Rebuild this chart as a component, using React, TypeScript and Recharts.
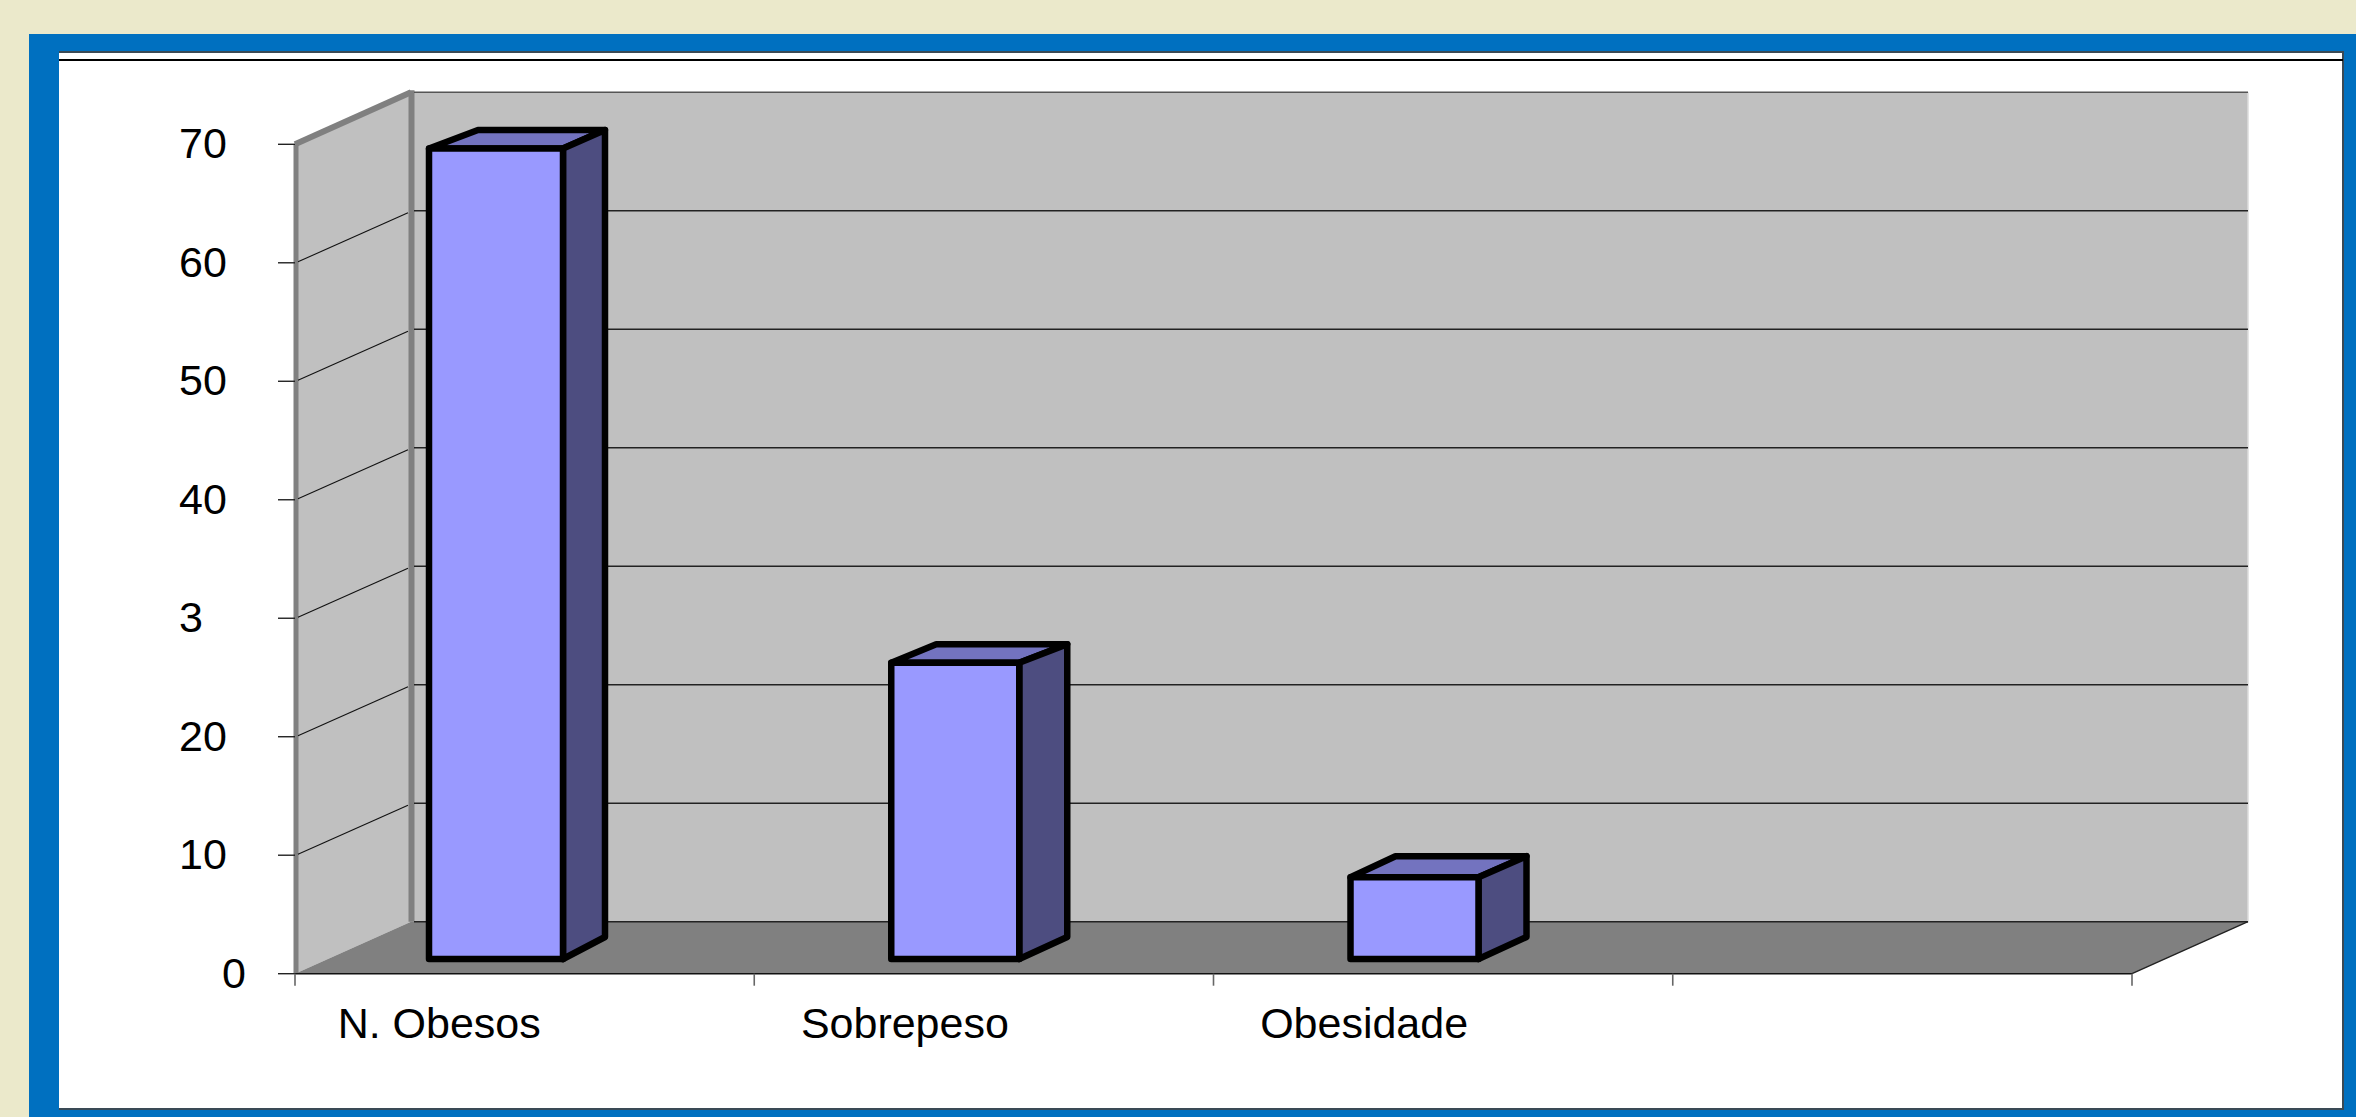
import React from "react";
import { BarChart, Bar, XAxis, YAxis, CartesianGrid } from "recharts";

const categories = ["N. Obesos", "Sobrepeso", "Obesidade", ""];
const seriesValues = [68.4, 25, 6.9, null];
const yTicks = [0, 10, 20, 30, 40, 50, 60, 70];
const yTickLabels = ["0", "10", "20", "3", "40", "50", "60", "70"];

const chartData = categories.map((name, i) => ({ name, value: seriesValues[i] }));

const W = 2356;
const H = 1117;
const PLOT = { left: 295, right: 2132, top: 144.3, bottom: 973.7 };
const DEPTH_X = 116;
const DEPTH_Y = 52;
const FONT = '"Liberation Sans", Arial, sans-serif';
const FONT_SIZE = 43;

function gridLine(props: any) {
  const { x1, x2, y1, index, x, y, width, height } = props;
  const isBase = Math.abs(y1 - (y + height)) < 0.5;
  const isTop = Math.abs(y1 - y) < 0.5;
  const bx = x + DEPTH_X;
  const right = x + width;
  return (
    <g key={`wall-${index}`}>
      {index === 0 && (
        <g>
          <polygon
            points={`${bx},${y - DEPTH_Y} ${right + DEPTH_X},${y - DEPTH_Y} ${right + DEPTH_X},${y + height - DEPTH_Y} ${bx},${y + height - DEPTH_Y}`}
            fill="#C0C0C0"
          />
          <polygon
            points={`${x},${y} ${bx},${y - DEPTH_Y} ${bx},${y + height - DEPTH_Y} ${x},${y + height}`}
            fill="#C0C0C0"
          />
          <polygon
            points={`${x},${y + height} ${bx},${y + height - DEPTH_Y} ${right + DEPTH_X},${y + height - DEPTH_Y} ${right},${y + height}`}
            fill="#808080"
          />
          <line x1={x + 1} y1={y} x2={x + 1} y2={y + height} stroke="#808080" strokeWidth={5} />
          <line x1={bx + 0.5} y1={y - DEPTH_Y - 2} x2={bx + 0.5} y2={y + height - DEPTH_Y} stroke="#808080" strokeWidth={6} />
          <line x1={x} y1={y} x2={bx} y2={y - DEPTH_Y} stroke="#808080" strokeWidth={6} />
          <line x1={right + DEPTH_X} y1={y - DEPTH_Y} x2={right + DEPTH_X} y2={y + height - DEPTH_Y} stroke="#DDDDDD" strokeWidth={1.5} />
        </g>
      )}
      {!isBase && !isTop && (
        <line x1={x1 + 3} y1={y1 - 1} x2={bx - 3} y2={y1 - DEPTH_Y + 2} stroke="#111" strokeWidth={1.1} />
      )}
      <line x1={bx + 3} y1={y1 - DEPTH_Y} x2={x2 + DEPTH_X} y2={y1 - DEPTH_Y} stroke={isTop ? "#555" : "#222"} strokeWidth={1.4} />
      {isBase && (
        <g>
          <line x1={x1} y1={y1} x2={x2} y2={y1} stroke="#111" strokeWidth={1.6} />
          <line x1={x2} y1={y1} x2={x2 + DEPTH_X} y2={y1 - DEPTH_Y} stroke="#222" strokeWidth={1.4} />
        </g>
      )}
    </g>
  );
}

function YTick(props: any) {
  const { y, index } = props;
  const label = yTickLabels[index];
  const isZero = label === "0";
  return (
    <text
      x={PLOT.left - (isZero ? 73 : 116)}
      y={y + 14}
      textAnchor="start"
      fontFamily={FONT}
      fontSize={FONT_SIZE}
      fill="#000"
    >
      {label}
    </text>
  );
}

function XTick(props: any) {
  const { x, index, payload } = props;
  const half = (PLOT.right - PLOT.left) / categories.length / 2;
  const isLast = index === categories.length - 1;
  const labelX = x - 187 + (index > 0 ? 4 : 0);
  const y = PLOT.bottom;
  return (
    <g>
      <line x1={x - half} y1={y} x2={x - half} y2={y + 12} stroke="#666" strokeWidth={1.6} />
      {isLast && <line x1={x + half} y1={y} x2={x + half} y2={y + 12} stroke="#666" strokeWidth={1.6} />}
      <text x={labelX} y={y + 64} textAnchor="start" fontFamily={FONT} fontSize={FONT_SIZE} fill="#000">
        {payload.value}
      </text>
    </g>
  );
}

const topDepths = [18.5, 18.5, 21];
const backLeftDepths = [49, 45, 45];
const backRightDepths = [42, 48, 48];

function Box3D(props: any) {
  const { x, y, width, height, index } = props;
  const first = index === 0;
  const w = first ? width + 6 : width;
  const dxL = backLeftDepths[index];
  const dxR = backRightDepths[index];
  const dyTop = topDepths[index];
  const dyBottom = 22;
  const left = x + width / 2 - w / 2 - 29;
  const right = left + w;
  const top = y - 14.7;
  const bottom = top + height;
  const stroke = { stroke: "#000", strokeWidth: 6.5, strokeLinejoin: "round" as const };
  return (
    <g>
      <polygon points={`${left},${top} ${left + dxL},${top - dyTop} ${right + dxR},${top - dyTop} ${right},${top}`} fill="#7373BF" {...stroke} />
      <polygon points={`${right},${top} ${right + dxR},${top - dyTop} ${right + dxR},${bottom - dyBottom} ${right},${bottom}`} fill="#4D4D80" {...stroke} />
      <rect x={left} y={top} width={w} height={height} fill="#9999FF" {...stroke} />
    </g>
  );
}

export default function App() {
  return (
    <div style={{ position: "absolute", left: 0, top: 0, width: W, height: H, background: "#EBE9CB", overflow: "hidden" }}>
      <div style={{ position: "absolute", left: 29, top: 34, right: 0, bottom: 0, background: "#0070C0" }} />
      <div
        style={{
          position: "absolute",
          left: 59,
          top: 51,
          width: 2285,
          height: 1059,
          background: "#FFFFFF",
          borderTop: "2px solid #3A4A55",
          borderRight: "2px solid #3A4A55",
          borderBottom: "2px solid #3A4A55",
          boxSizing: "border-box",
        }}
      />
      <div style={{ position: "absolute", left: 59, top: 59, width: 2284, height: 1.5, background: "#000" }} />
      <div style={{ position: "absolute", left: 0, top: 0 }}>
        <BarChart
          width={W}
          height={H}
          data={chartData}
          margin={{ left: PLOT.left - 1, right: W - PLOT.right, top: PLOT.top, bottom: H - PLOT.bottom - 1 }}
          barSize={128}
        >
          <CartesianGrid vertical={false} horizontal={gridLine} horizontalValues={yTicks} />
          <XAxis dataKey="name" height={1} interval={0} axisLine={false} tickLine={false} tick={XTick} />
          <YAxis
            width={1}
            domain={[0, 70]}
            ticks={yTicks}
            interval={0}
            axisLine={false}
            tickSize={17}
            tickLine={{ stroke: "#222", strokeWidth: 1.4 }}
            tick={YTick}
          />
          <Bar dataKey="value" isAnimationActive={false} shape={Box3D} />
        </BarChart>
      </div>
    </div>
  );
}
